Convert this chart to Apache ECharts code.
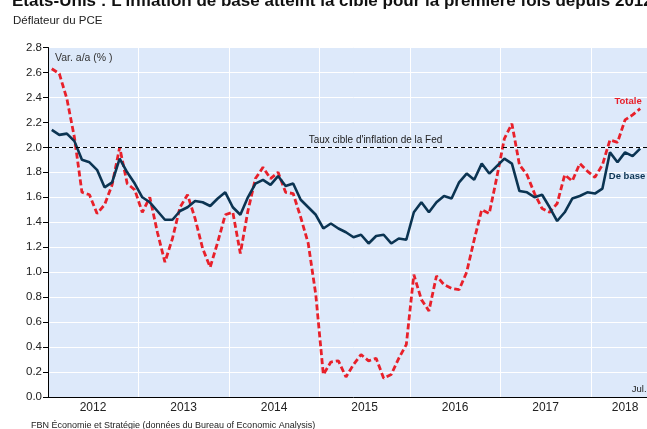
<!DOCTYPE html>
<html>
<head>
<meta charset="utf-8">
<script src="https://cdn.jsdelivr.net/npm/echarts@6/dist/echarts.min.js"></script>
<style>
  html, body { margin: 0; padding: 0; background: #fff; overflow: hidden; }
  /* le graphique original est plus large que la capture : on le coupe a droite */
  #chart { width: 660px; height: 429px; }
</style>
</head>
<body>
<div id="chart"></div>
<script>
// mois de janvier 2012 a septembre 2018 (l'axe depasse un peu juillet 2018)
const firstYear = 2012
const monthCount = 81
const months = []
for (let i = 0; i < monthCount; i++) {
  const y = firstYear + Math.floor(i / 12)
  const m = (i % 12) + 1
  months.push(y + '-' + (m < 10 ? '0' + m : m))
}

// Deflateur du PCE total, var. a/a (%)
const totale = [
  2.63, 2.59, 2.39, 2.08, 1.64, 1.62, 1.47, 1.54, 1.70, 2.00, 1.71, 1.66,
  1.48, 1.60, 1.32, 1.08, 1.27, 1.52, 1.62, 1.43, 1.19, 1.04, 1.24, 1.46,
  1.48, 1.15, 1.49, 1.75, 1.84, 1.75, 1.80, 1.64, 1.63, 1.44, 1.23, 0.82,
  0.18, 0.28, 0.29, 0.16, 0.26, 0.34, 0.29, 0.31, 0.15, 0.18, 0.31, 0.42,
  0.98, 0.78, 0.69, 0.97, 0.90, 0.87, 0.86, 1.00, 1.26, 1.50, 1.47, 1.76,
  2.07, 2.19, 1.86, 1.78, 1.63, 1.51, 1.48, 1.55, 1.78, 1.73, 1.87, 1.81,
  1.76, 1.86, 2.06, 2.04, 2.22, 2.26, 2.31
]

// Deflateur du PCE de base, var. a/a (%)
const deBase = [
  2.14, 2.10, 2.11, 2.05, 1.90, 1.88, 1.82, 1.68, 1.72, 1.91, 1.80, 1.71,
  1.60, 1.56, 1.49, 1.42, 1.42, 1.49, 1.52, 1.57, 1.56, 1.53, 1.59, 1.64,
  1.52, 1.46, 1.60, 1.71, 1.74, 1.70, 1.77, 1.69, 1.71, 1.58, 1.52, 1.46,
  1.35, 1.39, 1.35, 1.32, 1.28, 1.30, 1.23, 1.29, 1.30, 1.23, 1.27, 1.26,
  1.48, 1.56, 1.48, 1.56, 1.61, 1.59, 1.72, 1.79, 1.74, 1.87, 1.79, 1.85,
  1.91, 1.87, 1.65, 1.64, 1.60, 1.62, 1.52, 1.41, 1.48, 1.59, 1.61, 1.64,
  1.63, 1.67, 1.96, 1.88, 1.96, 1.93, 1.99
]

const cibleFed = 2.0

const fontFamily = '"Liberation Sans", Arial, sans-serif'
const textColor = '#222'
const redColor = '#e8202a'
const navyColor = '#0b3452'

const chart = echarts.init(document.getElementById('chart'), null, { renderer: 'canvas' })

const option = {
  backgroundColor: '#fff',
  animation: false,
  textStyle: { fontFamily: fontFamily },
  title: [
    {
      text: 'États-Unis : L\'inflation de base atteint la cible pour la première fois depuis 2012',
      left: 7,
      top: -12,
      textStyle: { fontSize: 17, fontWeight: 'bold', color: '#111', fontFamily: fontFamily }
    },
    {
      text: 'Déflateur du PCE',
      left: 8,
      top: 10,
      textStyle: { fontSize: 11.5, fontWeight: 'normal', color: textColor, fontFamily: fontFamily }
    },
    {
      text: 'FBN Économie et Stratégie (données du Bureau of Economic Analysis)',
      left: 26,
      top: 416,
      textStyle: { fontSize: 9, fontWeight: 'normal', color: textColor, fontFamily: fontFamily }
    }
  ],
  graphic: [
    {
      type: 'text',
      left: 55,
      top: 53,
      style: { text: 'Var. a/a (% )', fontSize: 10.5, fill: '#333', fontFamily: fontFamily }
    }
  ],
  grid: {
    left: 48,
    top: 47.5,
    width: 611,
    bottom: 32,
    show: true,
    backgroundColor: '#dde9fa',
    borderWidth: 0
  },
  xAxis: {
    type: 'category',
    data: months,
    boundaryGap: true,
    axisLine: { lineStyle: { color: '#000', width: 1 } },
    axisTick: {
      interval: (i) => i % 12 === 0,
      length: 5,
      lineStyle: { color: '#000', width: 1 }
    },
    axisLabel: {
      interval: (i) => (i % 12 === 6 && i < 72) || i === 76,
      formatter: (v, i) => {
        const y = v.slice(0, 4)
        return i === 76 ? '{z|' + y + '}' : '{y|' + y + '}'
      },
      margin: 5,
      rich: {
        y: { fontSize: 12, color: textColor, fontFamily: fontFamily, padding: [0, 8, 0, 0] },
        z: { fontSize: 12, color: textColor, fontFamily: fontFamily }
      }
    },
    splitLine: {
      show: true,
      interval: (i) => i % 12 === 0 && i > 0,
      lineStyle: { color: '#fff', width: 1 }
    }
  },
  yAxis: {
    type: 'value',
    min: 0,
    max: 2.8,
    interval: 0.2,
    axisLine: { show: true, lineStyle: { color: '#000', width: 1 } },
    axisTick: { show: true, length: 5, lineStyle: { color: '#000' } },
    axisLabel: {
      formatter: (v) => v.toFixed(1),
      fontSize: 11.5,
      color: textColor,
      margin: 6
    },
    splitLine: { lineStyle: { color: '#fff', width: 1 } }
  },
  series: [
    {
      name: 'Totale',
      type: 'line',
      data: totale,
      symbol: 'none',
      z: 3,
      lineStyle: { color: redColor, width: 2.8, type: [6, 3] },
      markPoint: {
        symbol: 'circle',
        symbolSize: 0,
        silent: true,
        data: [{ coord: ['2018-05', 2.37] }],
        label: {
          show: true,
          position: 'inside',
          offset: [3, 0],
          formatter: 'Totale',
          fontSize: 9.5,
          fontWeight: 'bold',
          color: redColor
        }
      }
    },
    {
      name: 'De base',
      type: 'line',
      data: deBase,
      symbol: 'none',
      z: 4,
      lineStyle: { color: navyColor, width: 2.6 },
      markLine: {
        silent: true,
        symbol: 'none',
        data: [{ yAxis: cibleFed }],
        lineStyle: { color: '#000', width: 1, type: [4, 3] },
        label: {
          show: true,
          position: 'insideMiddleTop',
          distance: 2,
          formatter: 'Taux cible d\'inflation de la Fed',
          fontSize: 10,
          color: textColor,
          padding: [0, 0, 0, 44]
        }
      },
      markPoint: {
        symbol: 'circle',
        symbolSize: 0,
        silent: true,
        data: [
          {
            coord: ['2018-05', 1.77],
            label: { formatter: 'De base', fontWeight: 'bold', color: navyColor, fontSize: 9.5, offset: [2, 0] }
          },
          {
            coord: ['2018-07', 0],
            label: { formatter: 'Jul.', fontWeight: 'normal', color: textColor, fontSize: 9.5, offset: [-1, -8] }
          }
        ],
        label: { show: true, position: 'inside' }
      }
    }
  ]
}

chart.setOption(option)
</script>
</body>
</html>
